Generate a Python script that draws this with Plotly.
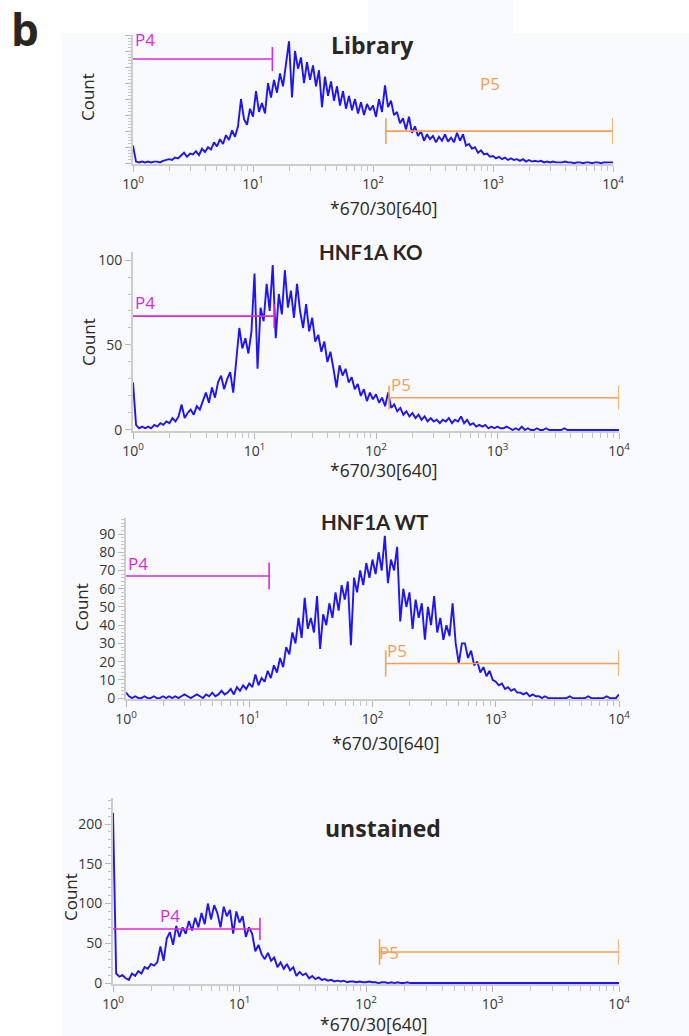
import numpy as np
import plotly.graph_objects as go

# ---------------- data ----------------
# histogram channels: 40 log-spaced channels per decade, 10^0 .. 10^4
CHANNELS_PER_DECADE = 40
N_CHANNELS = 161
fluorescence = 10 ** (np.arange(N_CHANNELS) / CHANNELS_PER_DECADE)

library_counts = [
    22, 2, 1, 2, 1, 2, 1, 2, 2, 1,
    3, 4, 5, 4, 7, 6, 9, 13, 8, 12,
    11, 15, 10, 18, 14, 20, 17, 26, 21, 30,
    24, 35, 29, 41, 33, 46, 80, 55, 48, 68,
    58, 90, 64, 75, 62, 100, 82, 104, 88, 112,
    96, 125, 152, 82, 140, 118, 132, 100, 126, 104,
    122, 96, 116, 70, 108, 84, 102, 78, 96, 72,
    90, 68, 84, 66, 80, 62, 76, 60, 74, 66,
    72, 58, 80, 64, 97, 70, 78, 60, 64, 50,
    56, 42, 58, 38, 46, 34, 40, 28, 36, 30,
    34, 26, 33, 28, 36, 27, 32, 26, 38, 28,
    36, 22, 24, 18, 20, 13, 16, 11, 12, 8,
    9, 6, 8, 5, 7, 4, 6, 4, 5, 3,
    5, 2, 4, 2, 3, 2, 3, 1, 2, 1,
    2, 1, 1, 1, 2, 1, 1, 0, 1, 1,
    0, 1, 1, 0, 1, 1, 0, 1, 1, 1,
    1,
]

ko_counts = [
    28, 3, 1, 2, 1, 2, 1, 3, 2, 4,
    3, 5, 4, 7, 5, 8, 15, 7, 10, 12,
    9, 14, 12, 17, 22, 16, 25, 19, 28, 32,
    24, 30, 34, 22, 40, 60, 48, 54, 45, 58,
    92, 36, 72, 64, 86, 70, 97, 54, 80, 68,
    94, 72, 82, 66, 86, 70, 60, 74, 58, 66,
    52, 56, 46, 52, 40, 46, 36, 25, 38, 32,
    36, 28, 31, 24, 27, 20, 24, 17, 22, 18,
    21, 16, 19, 14, 22, 13, 15, 11, 13, 9,
    11, 8, 10, 7, 9, 6, 8, 5, 7, 5,
    6, 4, 6, 5, 7, 4, 6, 5, 8, 4,
    6, 3, 4, 2, 3, 2, 3, 1, 2, 1,
    2, 1, 1, 2, 1, 0, 1, 0, 2, 0,
    1, 0, 0, 1, 0, 0, 1, 0, 0, 0,
    0, 0, 1, 0, 0, 0, 0, 0, 0, 0,
    0, 0, 0, 0, 0, 0, 0, 0, 0, 0,
    0,
]

wt_counts = [
    3, 1, 0, 1, 0, 0, 1, 0, 0, 1,
    0, 0, 1, 0, 1, 0, 1, 0, 1, 2,
    1, 0, 1, 2, 1, 0, 2, 1, 3, 1,
    2, 4, 2, 3, 5, 2, 6, 4, 7, 5,
    8, 6, 13, 7, 11, 9, 15, 11, 18, 14,
    22, 17, 28, 24, 36, 30, 44, 33, 55, 38,
    44, 36, 56, 27, 46, 40, 52, 44, 58, 48,
    62, 54, 64, 29, 66, 58, 70, 62, 74, 66,
    76, 68, 80, 70, 89, 63, 76, 70, 83, 42,
    60, 50, 58, 38, 54, 44, 52, 32, 50, 40,
    56, 36, 44, 32, 40, 34, 52, 30, 19, 30,
    30, 22, 26, 18, 20, 14, 17, 12, 15, 10,
    9, 7, 8, 5, 6, 4, 5, 3, 3, 2,
    3, 1, 2, 1, 1, 0, 1, 0, 0, 0,
    0, 0, 0, 0, 1, 0, 0, 0, 0, 0,
    1, 0, 0, 0, 0, 0, 1, 0, 0, 0,
    2,
]

unstained_counts = [
    214, 12, 8, 10, 6, 4, 12, 9, 15, 12,
    20, 18, 24, 22, 26, 46, 28, 56, 64, 48,
    72, 58, 70, 62, 78, 66, 82, 70, 88, 74,
    100, 80, 98, 88, 70, 96, 84, 92, 62, 90,
    76, 84, 58, 70, 62, 40, 48, 36, 30, 38,
    28, 32, 20, 26, 18, 24, 16, 20, 9, 14,
    10, 12, 6, 9, 5, 7, 4, 5, 3, 4,
    2, 3, 2, 3, 1, 2, 2, 1, 2, 1,
    1, 2, 1, 1, 0, 1, 1, 0, 1, 0,
    1, 0, 0, 1, 0, 0, 0, 0, 0, 0,
    0, 0, 0, 0, 0, 0, 0, 0, 0, 0,
    0, 0, 0, 0, 0, 0, 0, 0, 0, 0,
    0, 0, 0, 0, 0, 0, 0, 0, 0, 0,
    0, 0, 0, 0, 0, 0, 0, 0, 0, 0,
    0, 0, 0, 0, 0, 0, 0, 0, 0, 0,
    0, 0, 0, 0, 0, 0, 0, 0, 0, 0,
    0,
]

panel_titles = ["Library", "HNF1A KO", "HNF1A WT", "unstained"]
x_title = "*670/30[640]"
y_title = "Count"
decade_values = [1, 10, 100, 1000, 10000]
decade_labels = ["10<sup>0</sup>", "10<sup>1</sup>", "10<sup>2</sup>",
                 "10<sup>3</sup>", "10<sup>4</sup>"]

# gates (fluorescence bounds) and the count level where each gate bar is drawn
p4_gate = [1, 14.5]
p5_gate = [128, 10000]
p4_level = [130, 67, 67, 68]
p5_level = [40, 19, 19, 39]

# ---------------- layout / style ----------------
W, H = 689, 1036
BLUE = "#1f14f5"
MAGENTA = "#dc28dc"
ORANGE = "#f5a056"
DARK = "#2b2622"
TICKTXT = "#3a3532"
AXIS = "#cdcdcd"
FONT = "Open Sans"


def px_x(p):
    return p / W


def px_y(p):
    return 1 - p / H


panels = [
    dict(counts=library_counts, x_px=[133, 613], y_px=[35, 164], yrange=[-1, 160],
         ydtick=20, yminor=4, ylabels=False, tick_half=15, p5_half=16,
         title_xy=(372, 45), title_font=("Open Sans", 23),
         count_xy=(88, 97), xt_xy=(384, 208),
         p4_txt=(0.0, 154, "left"), p5_txt=(2.975, 100, "center")),
    dict(counts=ko_counts, x_px=[133, 619], y_px=[251.5, 431], yrange=[-0.6, 105],
         ydtick=50, yminor=10, ylabels=True, tick_half=7, p5_half=7,
         title_xy=(370, 252), title_font=("Lato", 20.5),
         count_xy=(88, 342), xt_xy=(384, 470),
         p4_txt=(0.0, 75, "left"), p5_txt=(2.11, 27, "left")),
    dict(counts=wt_counts, x_px=[126, 619], y_px=[518, 699], yrange=[-0.5, 98.8],
         ydtick=10, yminor=2, ylabels=True, tick_half=7.4, p5_half=7.2,
         title_xy=(375, 522), title_font=("Lato", 20.5),
         count_xy=(81, 607), xt_xy=(386, 743),
         p4_txt=(0.0, 74, "left"), p5_txt=(2.1, 26, "left")),
    dict(counts=unstained_counts, x_px=[113, 619], y_px=[798, 984], yrange=[-1.2, 232.7],
         ydtick=50, yminor=10, ylabels=True, tick_half=14, p5_half=16,
         title_xy=(383, 828), title_font=("Open Sans", 23),
         count_xy=(70, 897), xt_xy=(374, 1024),
         p4_txt=(0.45, 85, "center"), p5_txt=(2.09, 38, "left")),
]

fig = go.Figure()
annotations = []
layout_axes = {}

minor_vals = [m * 10 ** d for d in range(4) for m in range(2, 10)]

for i, p in enumerate(panels):
    sfx = "" if i == 0 else str(i + 1)
    xa, ya = "x" + sfx, "y" + sfx

    fig.add_trace(go.Scatter(
        x=fluorescence, y=p["counts"], mode="lines",
        line=dict(color=BLUE, width=1.9), xaxis=xa, yaxis=ya,
        showlegend=False, hoverinfo="skip"))

    # P4 gate
    lv = p4_level[i]
    h4 = p["tick_half"]
    fig.add_trace(go.Scatter(
        x=[p4_gate[0], p4_gate[1], None, p4_gate[1], p4_gate[1]],
        y=[lv, lv, None, lv - h4, lv + h4], mode="lines",
        line=dict(color=MAGENTA, width=1.6), xaxis=xa, yaxis=ya,
        showlegend=False, hoverinfo="skip"))
    # P5 gate
    lv5 = p5_level[i]
    h5 = p["p5_half"]
    fig.add_trace(go.Scatter(
        x=[p5_gate[0], p5_gate[1], None, p5_gate[0], p5_gate[0], None,
           p5_gate[1], p5_gate[1]],
        y=[lv5, lv5, None, lv5 - h5, lv5 + h5, None, lv5 - h5, lv5 + h5],
        mode="lines", line=dict(color=ORANGE, width=1.6), xaxis=xa, yaxis=ya,
        showlegend=False, hoverinfo="skip"))

    layout_axes["xaxis" + sfx] = dict(
        type="log", range=[0, 4], anchor=ya,
        domain=[px_x(p["x_px"][0]), px_x(p["x_px"][1])],
        tickmode="array", tickvals=decade_values, ticktext=decade_labels,
        ticks="outside", ticklen=6, tickwidth=1, tickcolor="#b8b8b8",
        minor=dict(tickmode="array", tickvals=minor_vals, ticks="outside",
                   ticklen=5, tickwidth=1, tickcolor="#c4c4c4"),
        showline=True, linecolor=AXIS, linewidth=2, showgrid=False,
        zeroline=False, layer="below traces",
        tickfont=dict(family=FONT, size=14, color=TICKTXT))
    layout_axes["yaxis" + sfx] = dict(
        range=p["yrange"], anchor=xa,
        domain=[px_y(p["y_px"][1]), px_y(p["y_px"][0])],
        tick0=0, dtick=p["ydtick"], ticks="outside", ticklen=6, tickwidth=1,
        tickcolor="#b8b8b8", showticklabels=p["ylabels"],
        minor=dict(dtick=p["yminor"], ticks="outside", ticklen=3,
                   tickcolor="#c4c4c4", tickwidth=1),
        showline=True, linecolor=AXIS, linewidth=2, showgrid=False,
        zeroline=False, layer="below traces",
        tickfont=dict(family=FONT, size=14, color=TICKTXT))

    # panel title
    tx, ty = p["title_xy"]
    tf, ts = p["title_font"]
    annotations.append(dict(
        text="<b>" + panel_titles[i] + "</b>", x=px_x(tx), y=px_y(ty),
        xref="paper", yref="paper", xanchor="center", yanchor="middle",
        showarrow=False, font=dict(family=tf, size=ts, color=DARK)))
    # axis titles
    cx, cy = p["count_xy"]
    annotations.append(dict(
        text=y_title, x=px_x(cx), y=px_y(cy), xref="paper", yref="paper",
        xanchor="center", yanchor="middle", textangle=-90, showarrow=False,
        font=dict(family=FONT, size=17, color=DARK)))
    xx, xy = p["xt_xy"]
    annotations.append(dict(
        text=x_title, x=px_x(xx), y=px_y(xy), xref="paper", yref="paper",
        xanchor="center", yanchor="middle", showarrow=False,
        font=dict(family=FONT, size=17.5, color=DARK)))
    # gate labels
    gx, gy, anc = p["p4_txt"]
    annotations.append(dict(
        text="P4", x=gx, y=gy, xref=xa, yref=ya, xanchor=anc,
        yanchor="middle", showarrow=False,
        font=dict(family=FONT, size=17, color=MAGENTA)))
    gx, gy, anc = p["p5_txt"]
    annotations.append(dict(
        text="P5", x=gx, y=gy, xref=xa, yref=ya, xanchor=anc,
        yanchor="middle", showarrow=False,
        font=dict(family=FONT, size=17, color=ORANGE)))

# panel letter
annotations.append(dict(
    text="<b>b</b>", x=px_x(25), y=px_y(29), xref="paper", yref="paper",
    xanchor="center", yanchor="middle", showarrow=False,
    font=dict(family=FONT, size=44, color="#2a251f")))

shapes = [
    dict(type="rect", xref="paper", yref="paper", x0=px_x(62), x1=1,
         y0=0, y1=px_y(33), fillcolor="#f8fafd", line=dict(width=0),
         layer="below"),
    dict(type="rect", xref="paper", yref="paper", x0=px_x(368), x1=px_x(513),
         y0=px_y(33), y1=1, fillcolor="#f8fafd", line=dict(width=0),
         layer="below"),
]

fig.update_layout(
    width=W, height=H,
    margin=dict(l=0, r=0, t=0, b=0, pad=0, autoexpand=False),
    paper_bgcolor="white", plot_bgcolor="rgba(0,0,0,0)",
    annotations=annotations, shapes=shapes, showlegend=False,
    **layout_axes)

fig.write_html("out.html")
